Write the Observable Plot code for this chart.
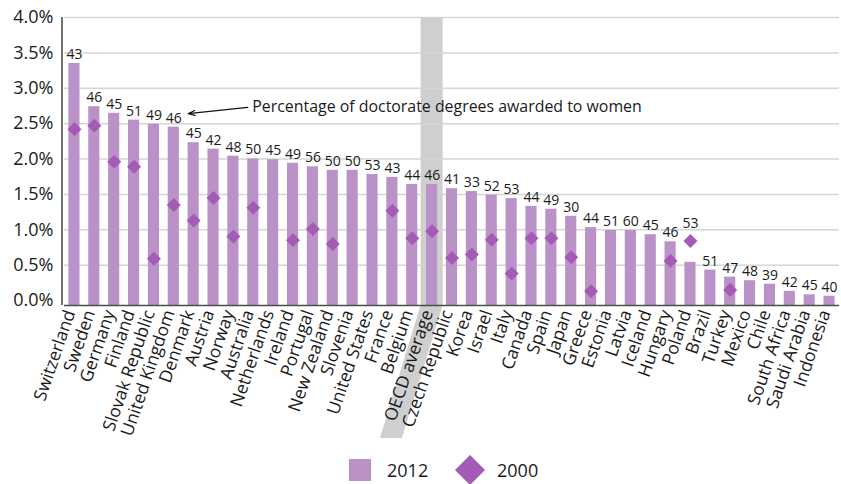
<!DOCTYPE html>
<html>
<head>
<meta charset="utf-8">
<script src="https://cdn.jsdelivr.net/npm/d3@7"></script>
<script src="https://cdn.jsdelivr.net/npm/@observablehq/plot@0.6"></script>
<style>
  html, body { margin: 0; padding: 0; background: #fff; overflow: hidden; }
  body { width: 841px; height: 484px; font-family: "Open Sans", sans-serif; color: #1a1a1a; }
  #chart svg { display: block; }
  #legend { position: relative; height: 39px; }
  #legend .item { position: absolute; top: 0; height: 50px; display: flex; align-items: center; font-size: 18px; }
</style>
</head>
<body>
<div id="chart"></div>
<div id="legend"></div>
<script>
// Graduation rate at doctoral level, per country (share of population, %)
const countries = [
  "Switzerland", "Sweden", "Germany", "Finland", "Slovak Republic", "United Kingdom",
  "Denmark", "Austria", "Norway", "Australia", "Netherlands", "Ireland", "Portugal",
  "New Zealand", "Slovenia", "United States", "France", "Belgium", "OECD average",
  "Czech Republic", "Korea", "Israel", "Italy", "Canada", "Spain", "Japan", "Greece",
  "Estonia", "Latvia", "Iceland", "Hungary", "Poland", "Brazil", "Turkey", "Mexico",
  "Chile", "South Africa", "Saudi Arabia", "Indonesia"
];
const rate2012 = [
  3.35, 2.74, 2.645, 2.55, 2.49, 2.45, 2.23, 2.14, 2.04, 2.0, 1.99, 1.94, 1.89,
  1.84, 1.84, 1.78, 1.74, 1.64, 1.64, 1.58, 1.54, 1.49, 1.44, 1.33, 1.29, 1.19, 1.03,
  0.99, 0.99, 0.93, 0.83, 0.54, 0.43, 0.33, 0.28, 0.23, 0.13, 0.08, 0.06
];
const rate2000 = [
  2.42, 2.47, 1.96, 1.89, 0.59, 1.35, 1.13, 1.45, 0.905, 1.31, null, 0.85, 1.01,
  0.80, null, null, 1.27, 0.88, 0.98, 0.60, 0.65, 0.86, 0.38, 0.88, 0.88, 0.61, 0.13,
  null, null, null, 0.56, 0.84, null, 0.15, null, null, null, null, null
];
// Percentage of doctorate degrees awarded to women (2012)
const womenShare = [
  43, 46, 45, 51, 49, 46, 45, 42, 48, 50, 45, 49, 56, 50, 50, 53, 43, 44, 46,
  41, 33, 52, 53, 44, 49, 30, 44, 51, 60, 45, 46, 53, 51, 47, 48, 39, 42, 45, 40
];
const yTicks = [0, 0.5, 1, 1.5, 2, 2.5, 3, 3.5, 4];
const highlight = "OECD average";
const seriesLabels = ["2012", "2000"];

const barColor = "#bb92c7";
const dotColor = "#a35bb5";
const axisColor = "#4d4d4d";
const bandColor = "#cfcfcf";
const labelAngle = -71;

const rows = countries.map((c, i) => ({
  country: c, v2012: rate2012[i], v2000: rate2000[i], women: womenShare[i]
}));
const withDot = rows.filter(d => d.v2000 != null);
const labelOnBar = rows.filter(d => d.v2000 == null || d.v2000 <= d.v2012);
const labelOnDot = rows.filter(d => d.v2000 != null && d.v2000 > d.v2012);

const axisOffset = 5; // baseline drawn a few pixels under zero

// Grey highlight behind the OECD average column and its slanted label
function highlightBand(index, scales, values, dims) {
  const x = scales.x, y = scales.y;
  const bw = x.bandwidth ? x.bandwidth() : 11;
  const cx = x(highlight) + bw / 2;
  const half = 11;
  const top = y(4);
  const base = y(0) + axisOffset;
  const bottom = dims.height - 7;
  const slope = Math.tan((90 - 73) * Math.PI / 180);
  const shift = (bottom - base) * slope;
  const g = d3.create("svg:g");
  g.append("rect")
    .attr("x", cx - half).attr("y", top)
    .attr("width", half * 2).attr("height", base - top)
    .attr("fill", bandColor);
  g.append("polygon")
    .attr("points", [
      [cx - half, base], [cx + half, base],
      [cx + half - shift, bottom], [cx - half - shift, bottom]
    ].map(p => p.join(",")).join(" "))
    .attr("fill", bandColor);
  return g.node();
}

// Vertical axis line at the left of the frame
function leftAxis(index, scales, values, dims) {
  const y = scales.y;
  return d3.create("svg:line")
    .attr("x1", dims.marginLeft - 2).attr("x2", dims.marginLeft - 2)
    .attr("y1", y(4)).attr("y2", y(0) + axisOffset)
    .attr("stroke", axisColor).attr("stroke-width", 1.6)
    .node();
}

const chart = Plot.plot({
  width: 841,
  height: 445,
  marginTop: 17,
  marginBottom: 145,
  marginLeft: 64,
  marginRight: 2,
  style: { fontFamily: "'Open Sans', sans-serif", background: "#fff", color: "#1a1a1a" },
  x: { domain: countries, axis: null, paddingInner: 0.44, paddingOuter: 0.22 },
  y: { domain: [0, 4], axis: null },
  marks: [
    highlightBand,
    Plot.ruleY(yTicks.filter(t => t > 0), { stroke: "#d5d5d5", strokeWidth: 1.5 }),
    Plot.barY(rows, { x: "country", y: "v2012", fill: barColor, insetBottom: -axisOffset }),
    Plot.dot(withDot, { x: "country", y: "v2000", symbol: "diamond2", r: 6.3, fill: dotColor }),
    Plot.ruleY([0], { stroke: axisColor, strokeWidth: 1.6, dy: axisOffset }),
    leftAxis,
    Plot.text(labelOnBar, { x: "country", y: "v2012", text: d => String(d.women), dy: -9, fontSize: 14, fill: "#1a1a1a" }),
    Plot.text(labelOnDot, { x: "country", y: "v2000", text: d => String(d.women), dy: -18, fontSize: 14, fill: "#1a1a1a" }),
    Plot.text(yTicks, { y: d => d, text: d => d.toFixed(1) + "%", frameAnchor: "left", textAnchor: "end", dx: -11, fontSize: 18, fill: "#1a1a1a" }),
    Plot.text(countries, { x: d => d, text: d => d, frameAnchor: "bottom", rotate: labelAngle, textAnchor: "end", dy: 12, dx: 1, fontSize: 17.5, fill: "#1a1a1a" }),
    Plot.arrow([{ x1: "Australia", y1: 2.73, x2: "Denmark", y2: 2.64 }], {
      x1: "x1", y1: "y1", x2: "x2", y2: "y2", dx: -5.5,
      stroke: "#111", strokeWidth: 1.2, headLength: 9, headAngle: 40
    }),
    Plot.text([{ x: "Australia", y: 2.73 }], {
      x: "x", y: "y", text: () => "Percentage of doctorate degrees awarded to women",
      textAnchor: "start", dx: -1, fontSize: 15.9, fill: "#1a1a1a"
    })
  ]
});
document.getElementById("chart").appendChild(chart);

// Legend below the chart
const legend = d3.select("#legend");
const item1 = legend.append("div").attr("class", "item").style("left", "349px");
item1.append("svg").attr("width", 22).attr("height", 22).style("display", "block")
  .append("rect").attr("width", 22).attr("height", 22).attr("fill", barColor);
item1.append("span").style("margin-left", "16px").text(seriesLabels[0]);
const item2 = legend.append("div").attr("class", "item").style("left", "455px");
item2.append("svg").attr("width", 30).attr("height", 30).style("display", "block")
  .append("polygon").attr("points", "15,0 30,15 15,30 0,15").attr("fill", dotColor);
item2.append("span").style("margin-left", "12px").text(seriesLabels[1]);
</script>
</body>
</html>
